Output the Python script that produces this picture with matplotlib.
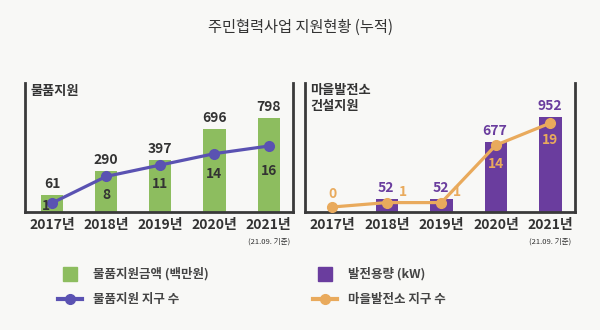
import numpy as np
import matplotlib
matplotlib.use("Agg")
import matplotlib.pyplot as plt
from matplotlib.lines import Line2D

plt.rcParams['font.family'] = ['Noto Sans CJK KR', 'DejaVu Sans']

# data
years = ['2017년', '2018년', '2019년', '2020년', '2021년']
goods_amount = [61, 290, 397, 696, 798]        # 물품지원금액 (백만원)
goods_districts = [1, 8, 11, 14, 16]          # 물품지원 지구 수
plant_capacity = [0, 52, 52, 677, 952]        # 발전용량 (kW)
plant_districts = [0, 1, 1, 14, 19]           # 마을발전소 지구 수
plant_bar_labels = ['', '52', '52', '677', '952']

GREEN = '#8dbd5f'
BLUE = '#5a52b2'
PURPLE = '#6a3d9e'
ORANGE = '#e9aa5c'
DARK = '#333333'
BG = '#f8f8f6'

fig = plt.figure(figsize=(6, 3.3), dpi=100, facecolor=BG)

fig.text(0.5, 1 - 27 / 330, '주민협력사업 지원현황 (누적)', ha='center', va='center',
         fontsize=11, color=DARK)


def setup_axes(rect):
    ax = fig.add_axes(rect)
    ax.set_facecolor('none')
    ax.spines['top'].set_visible(False)
    for s in ['left', 'right', 'bottom']:
        ax.spines[s].set_linewidth(2)
        ax.spines[s].set_color('#3a3a3a')
    ax.set_yticks([])
    ax.set_xlim(-0.5, 4.45)
    ax.set_xticks(range(len(years)))
    ax.set_xticklabels(years, fontsize=10, fontweight='bold', color=DARK)
    ax.tick_params(axis='x', length=0, pad=4)
    ax.annotate('(21.09. 기준)', xy=(4, 0), xycoords=('data', 'axes fraction'),
                xytext=(0, -30), textcoords='offset pixels', ha='center', va='center',
                fontsize=5.5, color=DARK)
    return ax


x = np.arange(len(years))

# left panel (bars start a bit below the visible baseline, as in the original)
ax1 = setup_axes([25 / 600, 118 / 330, 268 / 600, 129 / 330])
base1 = -102
ax1.bar(x, np.array(goods_amount) - base1, bottom=base1, width=0.41, color=GREEN)
ax1.set_ylim(base1, 1132)
for xi, v in zip(x, goods_amount):
    ax1.annotate(str(v), (xi, v), xytext=(0, 4), textcoords='offset pixels',
                 ha='center', va='bottom', fontsize=10, fontweight='bold', color=DARK)
ax1.text(0.02, 0.995, '물품지원', transform=ax1.transAxes, ha='left', va='top',
         fontsize=9.5, fontweight='bold', color=DARK)

ax1b = ax1.twinx()
ax1b.set_axis_off()
ax1b.set_ylim(-1.37, 32.6)
ax1b.plot(x, goods_districts, color=BLUE, lw=2.3, marker='o', ms=7)
offs1 = [(-6, -3), (0, -19), (0, -19), (0, -20), (0, -25)]
for xi, v, o in zip(x, goods_districts, offs1):
    ax1b.annotate(str(v), (xi, v), xytext=o, textcoords='offset pixels',
                  ha='center', va='center', fontsize=10, fontweight='bold', color=DARK)

# right panel
ax2 = setup_axes([305 / 600, 118 / 330, 270 / 600, 129 / 330])
base2 = -91
heights2 = [v - base2 if v > 0 else 0 for v in plant_capacity]
ax2.bar(x, heights2, bottom=base2, width=0.41, color=PURPLE)
ax2.set_ylim(base2, 1325)
for xi, v, lab in zip(x, plant_capacity, plant_bar_labels):
    ax2.annotate(lab, (xi, v), xytext=(-1, 4), textcoords='offset pixels',
                 ha='center', va='bottom', fontsize=10, fontweight='bold', color=PURPLE)
ax2.text(0.02, 1.0, '마을발전소\n건설지원', transform=ax2.transAxes, ha='left', va='top',
         fontsize=9.5, fontweight='bold', color=DARK, linespacing=1.2)

ax2b = ax2.twinx()
ax2b.set_axis_off()
ax2b.set_ylim(-1.13, 28.05)
ax2b.plot(x, plant_districts, color=ORANGE, lw=2.3, marker='o', ms=7)
offs2 = [(0, 13), (16, 11), (16, 11), (0, -19), (0, -17)]
for xi, v, o in zip(x, plant_districts, offs2):
    ax2b.annotate(str(v), (xi, v), xytext=o, textcoords='offset pixels',
                  ha='center', va='center', fontsize=10, fontweight='bold', color=ORANGE)

# legends
h_green = Line2D([], [], ls='none', marker='s', ms=10, color=GREEN)
h_blue = Line2D([], [], color=BLUE, lw=3, marker='o', ms=7)
h_purple = Line2D([], [], ls='none', marker='s', ms=10, color=PURPLE)
h_orange = Line2D([], [], color=ORANGE, lw=3, marker='o', ms=7)

leg_kw = dict(frameon=False, loc='center left', prop={'size': 9, 'weight': 'bold'},
              labelcolor='#444444', handlelength=1.9, handletextpad=0.9, labelspacing=1.0)
fig.legend([h_green, h_blue], ['물품지원금액 (백만원)', '물품지원 지구 수'],
           bbox_to_anchor=(47 / 600, 1 - 287 / 330), **leg_kw)
fig.legend([h_purple, h_orange], ['발전용량 (kW)', '마을발전소 지구 수'],
           bbox_to_anchor=(302 / 600, 1 - 287 / 330), **leg_kw)

fig.savefig('out.png', dpi=100, facecolor=BG)
